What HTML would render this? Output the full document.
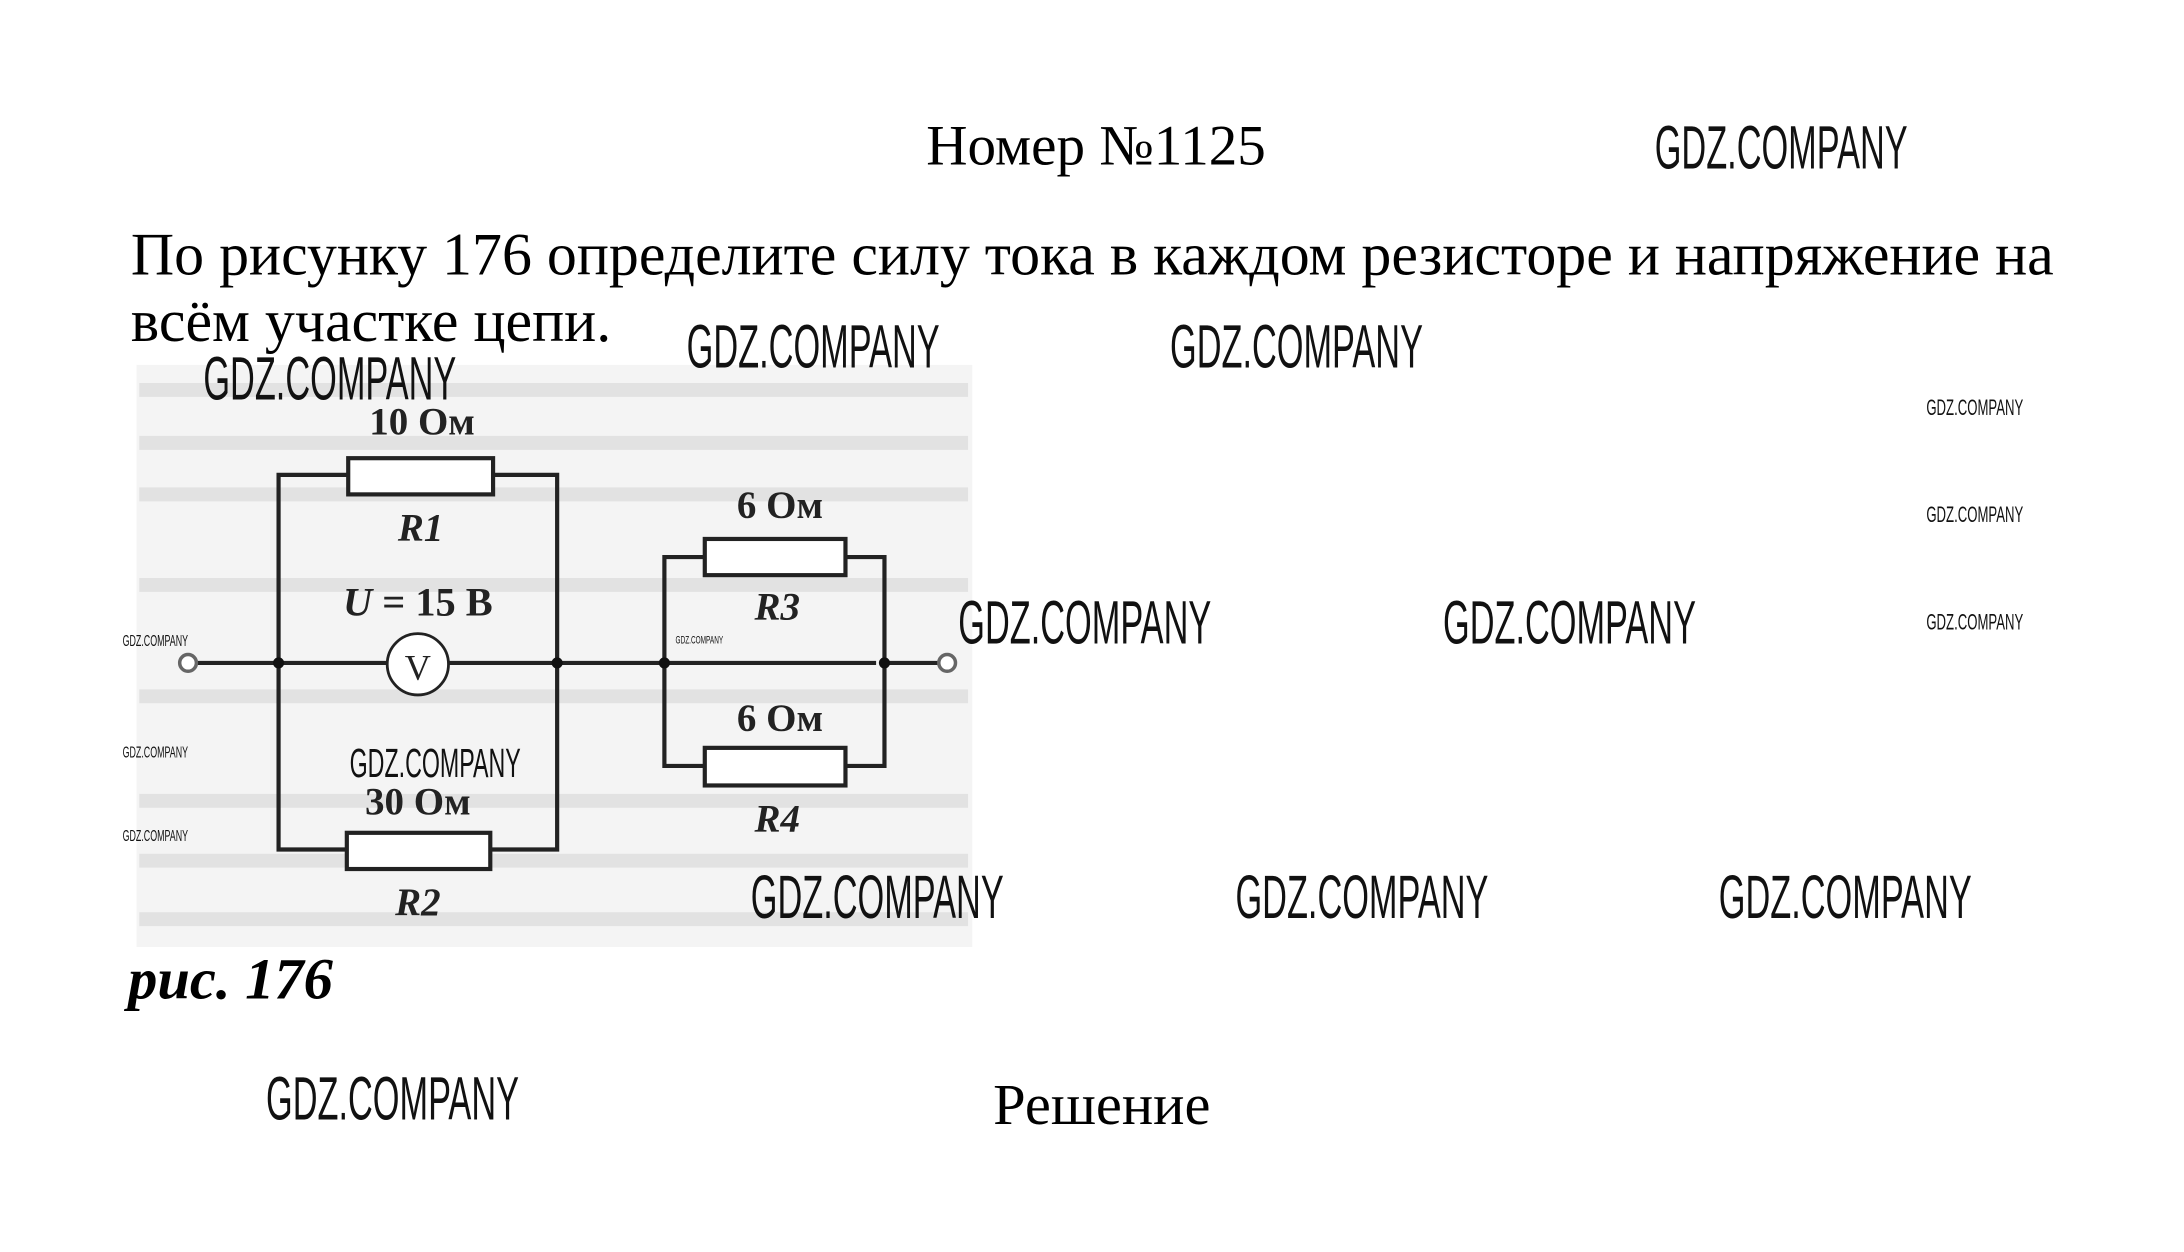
<!DOCTYPE html>
<html><head><meta charset="utf-8"><style>
html,body{margin:0;padding:0;background:#fff;overflow:hidden}
#w{position:absolute;left:0;top:0;width:1568px;height:899px;transform:scale(1.39286,1.39266);transform-origin:0 0}
.t{position:absolute;font-family:"Liberation Serif",serif;color:#000;white-space:nowrap}
.g{position:absolute;font-family:"Liberation Sans",sans-serif;color:#111;white-space:nowrap;transform-origin:0 0;line-height:1;font-weight:normal}
.L{font-size:44px;transform:scaleX(0.56)}
.M{font-size:29px;transform:scaleX(0.575)}
.S{font-size:16px;transform:scaleX(0.59)}
.X{font-size:11px;transform:scaleX(0.58)}
</style></head><body><div id="w">
<div style="position:absolute;left:98px;top:262px;width:600px;height:418px;background:#f4f4f4"></div>
<svg style="position:absolute;left:0;top:0" width="1568" height="899">
<g stroke="#e2e2e2" stroke-width="10">
<line x1="100" y1="280" x2="695" y2="280"/><line x1="100" y1="318" x2="695" y2="318"/><line x1="100" y1="355" x2="695" y2="355"/>
<line x1="100" y1="420" x2="695" y2="420"/><line x1="100" y1="500" x2="695" y2="500"/><line x1="100" y1="575" x2="695" y2="575"/><line x1="100" y1="618" x2="695" y2="618"/><line x1="100" y1="660" x2="695" y2="660"/>
</g>
<g stroke="#222" stroke-width="3" fill="none">
<line x1="141" y1="476" x2="278" y2="476"/><line x1="322" y1="476" x2="629" y2="476"/><line x1="635" y1="476" x2="674" y2="476"/>
<polyline points="250,341 200,341 200,610 249,610"/>
<polyline points="354,341 400,341 400,610 352,610"/>
<polyline points="506,400 477,400 477,550 506,550"/>
<polyline points="607,400 635,400 635,550 607,550"/>
<rect x="250" y="329" width="104" height="26" fill="#fff"/>
<rect x="249" y="598" width="103" height="26" fill="#fff"/>
<rect x="506" y="387" width="101" height="26" fill="#fff"/>
<rect x="506" y="537" width="101" height="27" fill="#fff"/>
<circle cx="300" cy="477" r="22" fill="#fff" stroke-width="2"/>
<circle cx="135" cy="476" r="6" fill="#fff" stroke="#666" stroke-width="2.5"/>
<circle cx="680" cy="476" r="6" fill="#fff" stroke="#666" stroke-width="2.5"/>
</g>
<g fill="#111"><circle cx="200" cy="476" r="4"/><circle cx="400" cy="476" r="4"/><circle cx="477" cy="476" r="4"/><circle cx="635" cy="476" r="4"/></g>
<g font-family="Liberation Serif,serif" font-weight="bold" font-size="28" text-anchor="middle" fill="#222">
<text x="303" y="312">10 Ом</text><text x="560" y="372">6 Ом</text><text x="560" y="525">6 Ом</text><text x="300" y="585">30 Ом</text>
<text x="300" y="442" font-size="29"><tspan font-style="italic">U</tspan> = 15 В</text>
<text x="300" y="488" font-size="26" font-weight="normal">V</text>
</g>
<g font-family="Liberation Serif,serif" font-weight="bold" font-style="italic" font-size="28" text-anchor="middle" fill="#222">
<text x="302" y="388">R1</text><text x="558" y="445">R3</text><text x="558" y="597">R4</text><text x="300" y="657">R2</text>
</g>
</svg>
<div class="t" style="left:665px;top:80px;font-size:41px;line-height:48px">Номер №1125</div>
<div class="t" style="left:94px;top:160px;font-size:43px;line-height:48px">По рисунку 176 определите силу тока в каждом резисторе и напряжение на<br>всём участке цепи.</div>
<div class="t" style="left:92px;top:680px;font-size:42px;font-weight:bold;font-style:italic;line-height:48px">рис. 176</div>
<div class="t" style="left:713px;top:770px;font-size:42px;line-height:48px">Решение</div>
<div class="g L" style="left:1188px;top:85px">GDZ.COMPANY</div>
<div class="g L" style="left:493px;top:228px">GDZ.COMPANY</div>
<div class="g L" style="left:840px;top:228px">GDZ.COMPANY</div>
<div class="g L" style="left:146px;top:251px">GDZ.COMPANY</div>
<div class="g L" style="left:688px;top:426px">GDZ.COMPANY</div>
<div class="g L" style="left:1036px;top:426px">GDZ.COMPANY</div>
<div class="g L" style="left:539px;top:623px">GDZ.COMPANY</div>
<div class="g L" style="left:887px;top:623px">GDZ.COMPANY</div>
<div class="g L" style="left:1234px;top:623px">GDZ.COMPANY</div>
<div class="g L" style="left:191px;top:768px">GDZ.COMPANY</div>
<div class="g M" style="left:251px;top:535px">GDZ.COMPANY</div>
<div class="g S" style="left:1383px;top:286px">GDZ.COMPANY</div>
<div class="g S" style="left:1383px;top:363px">GDZ.COMPANY</div>
<div class="g S" style="left:1383px;top:440px">GDZ.COMPANY</div>
<div class="g X" style="left:88px;top:456px">GDZ.COMPANY</div>
<div class="g X" style="left:88px;top:536px">GDZ.COMPANY</div>
<div class="g X" style="left:88px;top:596px">GDZ.COMPANY</div>
<div class="g X" style="left:485px;top:456px;font-size:8px">GDZ.COMPANY</div>
</div></body></html>
